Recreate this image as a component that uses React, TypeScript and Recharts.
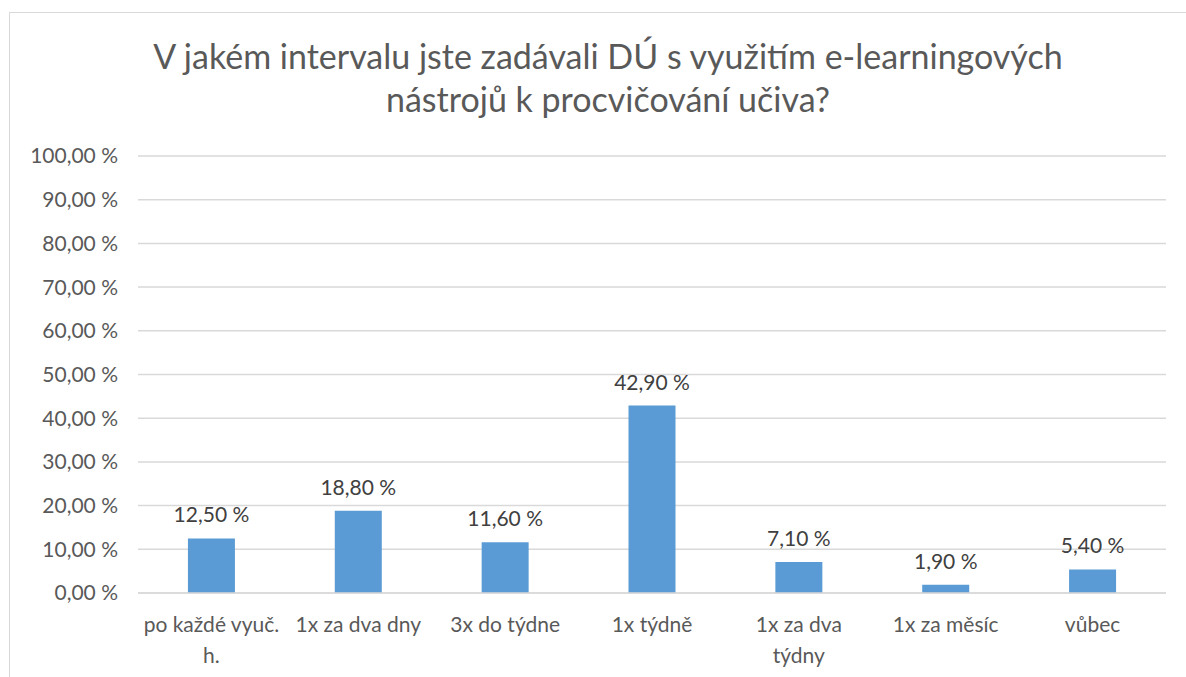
import React from 'react';
import { BarChart, Bar, XAxis, YAxis, CartesianGrid, LabelList } from 'recharts';

// --- Data ---
const categories = [
    'po každé vyuč. h.',
    '1x za dva dny',
    '3x do týdne',
    '1x týdně',
    '1x za dva týdny',
    '1x za měsíc',
    'vůbec',
];

// how the category labels break into lines under the axis
const categoryLines = [
    ['po každé vyuč.', 'h.'],
    ['1x za dva dny'],
    ['3x do týdne'],
    ['1x týdně'],
    ['1x za dva', 'týdny'],
    ['1x za měsíc'],
    ['vůbec'],
];

const shares = [12.5, 18.8, 11.6, 42.9, 7.1, 1.9, 5.4];

const yTicks = [0, 10, 20, 30, 40, 50, 60, 70, 80, 90, 100];

const TITLE_LINES = [
    'V jakém intervalu jste zadávali DÚ s využitím e-learningových',
    'nástrojů k procvičování učiva?',
];

const FONT = 'Lato, "Open Sans", sans-serif';
const BAR_COLOR = '#5b9bd5';
const TEXT_SIZE = 21;

const data = categories.map((name, i) => ({ name, value: shares[i] }));

const fmt = (v: number) => `${v.toFixed(2).replace('.', ',')} %`;

const CategoryTick = ({ x, y, payload }: any) => {
    const lines = categoryLines[payload.index] || [payload.value];
    return (
        <text x={x} y={y} textAnchor="middle" fill="#595959" fontSize={TEXT_SIZE} fontFamily={FONT}>
            {lines.map((ln: string, i: number) => (
                <tspan key={i} x={x} dy={i === 0 ? 31 : 31}>{ln}</tspan>
            ))}
        </text>
    );
};

// plain label above the bar, no wrapping
const ValueLabel = ({ x, y, width, value }: any) => (
    <text
        x={Number(x) + Number(width) / 2}
        y={Number(y) - 16}
        textAnchor="middle"
        fill="#404040"
        fontSize={TEXT_SIZE}
        fontFamily={FONT}
    >
        {fmt(Number(value))}
    </text>
);

export default function App() {
    return (
        <div style={{ position: 'absolute', left: 0, top: 0, width: 1186, height: 677, background: '#fff', overflow: 'hidden' }}>
            {/* chart frame, runs off the right and bottom */}
            <div style={{
                position: 'absolute', left: 9, top: 12, width: 1200, height: 700,
                border: '1.5px solid #d9d9d9', boxSizing: 'border-box',
            }} />
            <div style={{
                position: 'absolute', left: 0, top: 34, width: 1216, textAlign: 'center',
                fontFamily: FONT, fontSize: 34, lineHeight: '43px', color: '#595959',
            }}>
                {TITLE_LINES.map((t, i) => <div key={i}>{t}</div>)}
            </div>
            <div style={{ position: 'absolute', left: 0, top: 0 }}>
                <BarChart
                    width={1186}
                    height={677}
                    data={data}
                    margin={{ top: 156, right: 20, bottom: 24, left: 0 }}
                    barCategoryGap="34%"
                >
                    <CartesianGrid stroke="#d9d9d9" strokeWidth={1.5} vertical={false} />
                    <XAxis
                        dataKey="name"
                        tick={<CategoryTick />}
                        tickLine={false}
                        axisLine={{ stroke: '#d9d9d9', strokeWidth: 1.5 }}
                        height={60}
                        interval={0}
                    />
                    <YAxis
                        width={138}
                        domain={[0, 100]}
                        ticks={yTicks}
                        tickFormatter={fmt}
                        tickLine={false}
                        axisLine={false}
                        tickSize={0}
                        tickMargin={20}
                        tick={{ fill: '#595959', fontSize: TEXT_SIZE, fontFamily: FONT }}
                    />
                    <Bar dataKey="value" fill={BAR_COLOR} isAnimationActive={false}>
                        <LabelList dataKey="value" content={<ValueLabel />} />
                    </Bar>
                </BarChart>
            </div>
        </div>
    );
}
